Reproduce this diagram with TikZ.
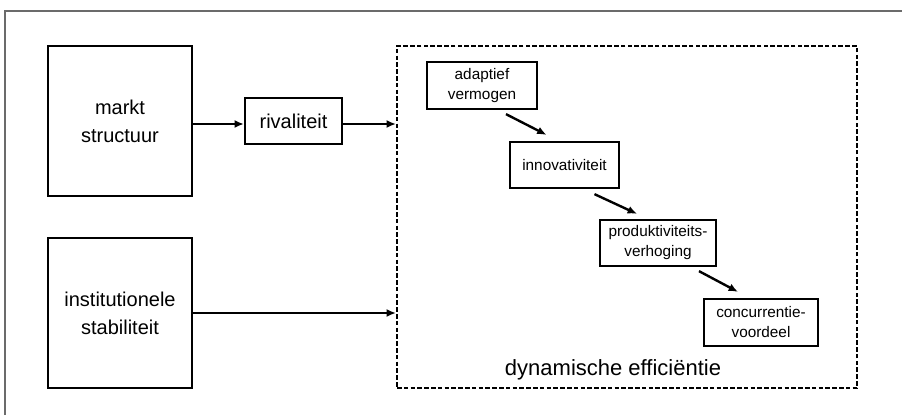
\documentclass[tikz,border=0pt]{standalone}
\usepackage{fontspec}
\setmainfont{Liberation Sans}
\usetikzlibrary{arrows.meta,calc}
\begin{document}
\begin{tikzpicture}[x=0.75pt,y=-0.75pt,
  bigbox/.style={draw,line width=1.7pt,minimum width=108pt,minimum height=112.5pt,
    inner sep=0pt,align=center,font=\fontsize{15}{21}\selectfont},
  midbox/.style={draw,line width=1.7pt,inner sep=0pt,align=center,
    font=\fontsize{15}{21}\selectfont},
  smallbox/.style={draw,line width=1.7pt,inner sep=0pt,align=center,
    font=\fontsize{11.5}{15}\selectfont},
  groupbox/.style={draw,line width=1.6pt,dash pattern=on 3.5pt off 1.6pt,inner sep=0pt},
  flow/.style={line width=1.6pt,-{Latex[length=7pt,width=6pt]}},
  step arrow/.style={line width=1.8pt,-{Latex[length=7pt,width=6pt]}}]
\useasboundingbox (0,0) rectangle (902,415);
% open frame around the figure
\draw[line width=1.1pt,color=black!58] (5,415) -- (5,11) -- (902,11);

% driving factors
\node[bigbox] (markt) at (120,121) {markt\\structuur};
\node[bigbox] (inst) at (120,313) {institutionele\\stabiliteit};
\node[midbox,minimum width=72.75pt,minimum height=34.5pt] (rival) at (293.5,121) {rivaliteit};

% dynamic efficiency group
\node[groupbox,minimum width=345pt,minimum height=256.5pt] (dyn) at (627,217) {};
\node[anchor=base,font=\fontsize{16.5}{20}\selectfont] (dynlabel) at (613,375) {dynamische efficiëntie};

\node[smallbox,minimum width=82.5pt,minimum height=35.25pt] (adapt) at (482,85.5) {adaptief\\vermogen};
\node[smallbox,minimum width=81.75pt,minimum height=34.5pt] (innov) at (564.5,165) {innovativiteit};
\node[smallbox,minimum width=87pt,minimum height=34.5pt] (prod) at (658,243) {produktiviteits-\\verhoging};
\node[smallbox,minimum width=85.5pt,minimum height=35.25pt] (conc) at (761,322.5) {concurrentie-\\voordeel};

% connectors
\draw[flow] ([yshift=-2.25pt]markt.east |- rival.west) -- ([yshift=-2.25pt]rival.west);
\draw[flow] ([yshift=-2.25pt]rival.east) -- ([yshift=-2.25pt]rival.east -| dyn.west);
\draw[flow] (inst.east) -- (inst.east -| dyn.west);

\draw[step arrow] ($(adapt.south)+(24,4)$) -- ($(innov.north)+(-18,-6)$);
\draw[step arrow] ($(innov.south)+(30,5)$) -- ($(prod.north)+(-21,-5)$);
\draw[step arrow] ($(prod.south)+(41,4)$) -- ($(conc.north)+(-23,-6)$);
\end{tikzpicture}
\end{document}
